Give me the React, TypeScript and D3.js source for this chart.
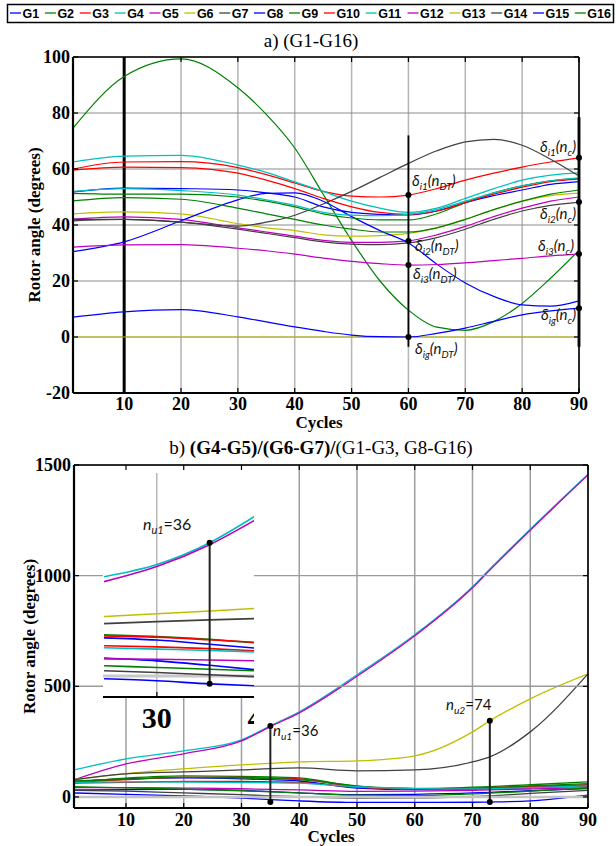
import React from "react";
import * as d3 from "d3";

// ---------- data ----------
const NAMES = ["G1","G2","G3","G4","G5","G6","G7","G8","G9","G10","G11","G12","G13","G14","G15","G16"];
const COLORS = ["#0000ff","#008000","#ff0000","#00bfbf","#bf00bf","#bfbf00","#404040","#0000ff","#008000","#ff0000","#00bfbf","#bf00bf","#bfbf00","#404040","#0000ff","#008000"];

// panel a: cycles
const X_A = [1,10,20,30,35,40,45,50,55,60,65,70,75,80,85,90];
const aG1 = [51.8,53.2,53,52.5,51.5,50,46.5,44.5,43.8,43.6,45,48,50.5,52.5,54.5,55.5];
const aG2 = [74.6,93,99.3,89,79.5,67.5,51,34.5,20,9.6,3.5,2.4,5.5,12,21,31];
const aG3 = [60,62.5,62.6,60.5,58,55,52,50.3,50,50.7,53,56,58.5,60.7,62.5,64];
const aG4 = [62.5,64.6,64.9,61.4,58.8,55.4,52,48.5,46,44.5,46,49.5,53,56,57.8,58.6];
const aG5 = [42.1,42.9,42,39,37.5,36,34.5,33.8,33.8,34.3,36.5,39.5,43,46,48.5,50];
const aG6 = [44,44.7,44,40.5,39,38,36.5,36,36.2,37,39,42,45.5,48.5,50.5,51.4];
const aG7 = [42,42,41,39.6,41,43.5,47.5,52,57,62,66.5,69.7,70.6,68.5,63.5,57.5];
const aG8 = [30.5,34,41.5,49,51.3,51.5,48.5,43,38,33.6,26,19.3,14.5,11.5,11,12.9];
const aG9 = [51.3,51,51,50,48.5,46.5,44,42.5,41.8,41.8,44,48,51.5,54,55.8,56.7];
const aG10 = [59.6,60.7,60.5,58.5,56,53,49.5,46.5,44.5,43.8,45,48,51,53.5,55.5,56.4];
const aG11 = [52,53,52.3,50.7,49,47,44.5,43.5,43.3,43.8,45.5,48.5,51.5,54,55.8,56.8];
const aG12 = [32.1,32.9,33,31.7,30.8,29.6,28.2,27,26.2,25.7,25.9,26.5,27.3,28.1,29,29.6];
const aG13 = [0,0,0,0,0,0,0,0,0,0,0,0,0,0,0,0];
const aG14 = [41.5,42,41,38.5,37,35.5,34,33.2,33,33.6,35.5,38.5,42,45,47,48.2];
const aG15 = [7.1,9,9.8,7.2,5.4,3.6,2,0.7,0.1,0,1.3,3.2,5.6,7.9,9.3,10.3];
const aG16 = [48.6,49.8,49.2,46,44,42,40,38.5,37.5,37.5,39,42,45.5,48.5,51,52.5];
const SERIES_A = [aG1,aG2,aG3,aG4,aG5,aG6,aG7,aG8,aG9,aG10,aG11,aG12,aG13,aG14,aG15,aG16];

const A_X_TICKS = [10,20,30,40,50,60,70,80,90];
const A_Y_TICKS = [-20,0,20,40,60,80,100];
const A_FAULT_X = 10;
const A_DT_X = 60;
const A_DT_SPAN = [-3.5, 72];
const A_NC_X = 90;
const A_NC_SPAN = [-3.5, 78.5];
const A_DT_SERIES = [2, 4, 11, 14]; // G3, G5, G12, G15
const A_NC_SERIES = [2, 13, 11, 14]; // G3, G14, G12, G15

// panel b: cycles
const X_B = [1,10,20,30,35,40,50,60,70,73,80,90];
const bG1 = [70,82,86,82,78,72,40,33,37,39,45,54];
const bG2 = [68,85,95,93,90,86,48,36,44,47,55,68];
const bG3 = [64,78,88,88,86,82,46,38,40,42,48,54];
const bG4 = [122,172,208,258,321,385,552,733,950,1030,1210,1458];
const bG5 = [77,149,195,253,318,380,545,728,945,1025,1205,1455];
const bG6 = [78,105,127,145,152,158,163,186,294,344,443,556];
const bG7 = [78,104,113,122,128,131,118,122,158,181,294,556];
const bG8 = [32,33,34,30,24,18,10,12,18,21,28,38];
const bG9 = [72,80,88,86,83,78,50,34,38,41,50,60];
const bG10 = [62,66,70,70,68,65,44,37,35,37,42,48];
const bG11 = [66,68,67,65,64,62,46,39,36,37,42,50];
const bG12 = [42,42,40,37,34,32,25,26,30,32,36,42];
const bG13 = [0,0,0,0,0,0,0,0,0,0,0,0];
const bG14 = [30,26,18,10,5,1,-5,-4,2,5,16,30];
const bG15 = [18,12,5,-5,-12,-18,-25,-25,-24,-23,-18,8];
const bG16 = [46,41,35,28,23,18,8,6,14,17,26,40];
const SERIES_B = [bG1,bG2,bG3,bG4,bG5,bG6,bG7,bG8,bG9,bG10,bG11,bG12,bG13,bG14,bG15,bG16];

const B_X_TICKS = [10,20,30,40,50,60,70,80,90];
const B_Y_TICKS = [0,500,1000,1500];
const B_MARK_X = [35, 73];
const B_MARK_SERIES = [3, 5]; // G4, G6
const B_MARK_BOTTOM = -23;
const B_MARK_LABELS = [["u1","=36"],["u2","=74"]];

// inset (magnified view of panel b)
const X_IN = [25,30,35,39.5];
const inG1 = [719,709,690,672];
const inG2 = [733,725,712,696];
const inG3 = [728,722,710,698];
const inG4 = [995,1050,1149,1275];
const inG5 = [973,1041,1140,1257];
const inG6 = [815,828,840,852];
const inG7 = [783,792,800,806];
const inG8 = [628,615,595,574];
const inG9 = [593,585,577,570];
const inG10 = [683,678,670,660];
const inG11 = [674,668,662,655];
const inG12 = [624,622,619,615];
const inG14 = [570,562,552,543];
const inG15 = [534,525,511,502];
const SERIES_IN: [number, number[]][] = [[0,inG1],[1,inG2],[2,inG3],[7,inG8],[8,inG9],[9,inG10],[10,inG11],[11,inG12],[13,inG14],[14,inG15],[5,inG6],[6,inG7],[3,inG4],[4,inG5]];
const IN_X_TICKS = [30, 40];
const IN_GRID_X = 30;
const IN_ZERO = 547;
const IN_MARK_X = 35;

// ---------- layout ----------
const W = 616, H = 846;
const xA = d3.scaleLinear().domain([1, 90]).range([73, 579]);
const yA = d3.scaleLinear().domain([-20, 100]).range([393, 57]);
const xB = d3.scaleLinear().domain([1, 90]).range([74, 588]);
const yB = d3.scaleLinear().domain([-50, 1500]).range([808, 465]);
const xIn = d3.scaleLinear().domain([24.9, 39.2]).range([103, 254]);
const IN_BOX = { x0: 103, x1: 254, y0: 466, y1: 697 };

const SERIF = "'Liberation Serif', 'Times New Roman', serif";
const SANS = "'Liberation Sans', Arial, sans-serif";
const CAL = "Lato, 'Open Sans', sans-serif";

function pathOf(xs: number[], vs: number[], xs_: any, ys_: any) {
  const gen = d3.line<number>().x((_, i) => xs_(xs[i])).y((v) => ys_(v)).curve(d3.curveMonotoneX);
  return gen(vs) || "";
}

function valAt(xs: number[], vs: number[], x: number) {
  const i = xs.indexOf(x);
  return vs[i];
}

function Delta({ x, y, sub, arg, anchor }: any) {
  return (
    <text x={x} y={y} fontFamily={CAL} fontStyle="italic" fontSize={15} textAnchor={anchor} fill="#111">
      δ<tspan fontSize={10} dy={4}>{sub}</tspan>
      <tspan dy={-4}>(n</tspan>
      <tspan fontSize={10} dy={4}>{arg}</tspan>
      <tspan dy={-4}>)</tspan>
    </text>
  );
}

function NLabel({ x, y, sub, rest, size }: any) {
  return (
    <text x={x} y={y} fontFamily={CAL} fontSize={size} fill="#111">
      <tspan fontStyle="italic">n</tspan>
      <tspan fontStyle="italic" fontSize={size * 0.68} dy={4}>{sub}</tspan>
      <tspan dy={-4}>{rest}</tspan>
    </text>
  );
}

function Legend() {
  let cx = 10;
  const items = NAMES.map((n, i) => {
    const tw = 12.5 * (0.778 + 0.556 * (n.length - 1));
    const x = cx;
    cx += 11 + 2 + tw + 5.2;
    return (
      <g key={n}>
        <line x1={x} x2={x + 11} y1={13} y2={13} stroke={COLORS[i]} strokeWidth={1.3} />
        <text x={x + 12.5} y={18} fontFamily={SANS} fontWeight="bold" fontSize={12.5} fill="#000">{n}</text>
      </g>
    );
  });
  return (
    <g>
      <rect x={7.5} y={4.5} width={606} height={18} fill="white" stroke="#000" strokeWidth={1.5} />
      {items}
    </g>
  );
}

function Frame({ x0, x1, y0, y1, xt, yt, xs, ys }: any) {
  return (
    <g>
      {xt.map((t: number) => (
        <g key={"xt" + t}>
          <line x1={xs(t)} x2={xs(t)} y1={y0} y2={y0 + 5} stroke="#000" strokeWidth={1.2} />
          <line x1={xs(t)} x2={xs(t)} y1={y1} y2={y1 - 5} stroke="#000" strokeWidth={1.2} />
        </g>
      ))}
      {yt.map((t: number) => (
        <g key={"yt" + t}>
          <line x1={x1} x2={x1 - 5} y1={ys(t)} y2={ys(t)} stroke="#000" strokeWidth={1.2} />
          <line x1={x0} x2={x0 + 5} y1={ys(t)} y2={ys(t)} stroke="#000" strokeWidth={1.2} />
        </g>
      ))}
      <line x1={x0} x2={x1} y1={y0} y2={y0} stroke="#000" strokeWidth={1.6} />
      <line x1={x1} x2={x1} y1={y0} y2={y1} stroke="#000" strokeWidth={1.6} />
      <line x1={x0} x2={x1} y1={y1} y2={y1} stroke="#000" strokeWidth={2.2} />
      <line x1={x0} x2={x0} y1={y0} y2={y1} stroke="#000" strokeWidth={2.2} />
    </g>
  );
}

function PanelA() {
  const [x0, x1] = xA.range();
  const [y1, y0] = yA.range();
  return (
    <g>
      <text x={311} y={47} textAnchor="middle" fontFamily={SERIF} fontSize={19}>a) (G1-G16)</text>
      {A_X_TICKS.map((t) => (
        <line key={"gx" + t} x1={xA(t)} x2={xA(t)} y1={y0} y2={y1} stroke="#b8b8b8" strokeWidth={1.6} />
      ))}
      {A_Y_TICKS.map((t) => (
        <line key={"gy" + t} x1={x0} x2={x1} y1={yA(t)} y2={yA(t)} stroke="#8c8c8c" strokeWidth={1.2} />
      ))}
      <line x1={xA(A_FAULT_X)} x2={xA(A_FAULT_X)} y1={y0} y2={y1} stroke="#000" strokeWidth={3} />
      {SERIES_A.map((s, i) => (
        <path key={i} d={pathOf(X_A, s, xA, yA)} fill="none" stroke={COLORS[i]} strokeWidth={1.2} />
      ))}
      <line x1={xA(A_DT_X)} x2={xA(A_DT_X)} y1={yA(A_DT_SPAN[0])} y2={yA(A_DT_SPAN[1])} stroke="#000" strokeWidth={1.8} />
      <line x1={xA(A_NC_X)} x2={xA(A_NC_X)} y1={yA(A_NC_SPAN[0])} y2={yA(A_NC_SPAN[1])} stroke="#222" strokeWidth={3} />
      {A_DT_SERIES.map((si) => (
        <circle key={"d" + si} cx={xA(A_DT_X)} cy={yA(valAt(X_A, SERIES_A[si], A_DT_X))} r={3} fill="#000" />
      ))}
      {A_NC_SERIES.map((si) => (
        <circle key={"n" + si} cx={xA(A_NC_X)} cy={yA(valAt(X_A, SERIES_A[si], A_NC_X))} r={3} fill="#000" />
      ))}
      <Delta x={412} y={186} sub="i1" arg="DT" anchor="start" />
      <Delta x={415} y={251} sub="i2" arg="DT" anchor="start" />
      <Delta x={413} y={279} sub="i3" arg="DT" anchor="start" />
      <Delta x={415} y={354} sub="ig" arg="DT" anchor="start" />
      <Delta x={576} y={152} sub="i1" arg="c" anchor="end" />
      <Delta x={576} y={219} sub="i2" arg="c" anchor="end" />
      <Delta x={574} y={251} sub="i3" arg="c" anchor="end" />
      <Delta x={576} y={320} sub="ig" arg="c" anchor="end" />
      <Frame x0={x0} x1={x1} y0={y0} y1={y1} xt={A_X_TICKS} yt={A_Y_TICKS} xs={xA} ys={yA} />
      {A_X_TICKS.map((t) => (
        <text key={"lx" + t} x={xA(t)} y={410} textAnchor="middle" fontFamily={SERIF} fontWeight="bold" fontSize={18}>{t}</text>
      ))}
      {A_Y_TICKS.map((t) => (
        <text key={"ly" + t} x={70} y={yA(t) + 6} textAnchor="end" fontFamily={SERIF} fontWeight="bold" fontSize={18}>{t}</text>
      ))}
      <text x={319} y={428} textAnchor="middle" fontFamily={SERIF} fontWeight="bold" fontSize={17}>Cycles</text>
      <text transform={`translate(40,${(y0 + y1) / 2}) rotate(-90)`} textAnchor="middle" fontFamily={SERIF} fontWeight="bold" fontSize={17}>Rotor angle (degrees)</text>
    </g>
  );
}

function PanelB() {
  const [x0, x1] = xB.range();
  const [y1, y0] = yB.range();
  return (
    <g>
      <defs>
        <clipPath id="inclip">
          <rect x={IN_BOX.x0} y={IN_BOX.y0} width={IN_BOX.x1 - IN_BOX.x0} height={IN_BOX.y1 - IN_BOX.y0} />
        </clipPath>
        <clipPath id="inlab">
          <rect x={IN_BOX.x0} y={IN_BOX.y1} width={IN_BOX.x1 - IN_BOX.x0} height={60} />
        </clipPath>
        <clipPath id="bclip">
          <rect x={x0} y={y0} width={x1 - x0} height={y1 - y0} />
        </clipPath>
      </defs>
      <text x={321} y={454} textAnchor="middle" fontFamily={SERIF} fontSize={19}>
        <tspan>b) </tspan>
        <tspan fontWeight="bold">(G4-G5)/(G6-G7)/</tspan>
        <tspan>(G1-G3, G8-G16)</tspan>
      </text>
      {B_X_TICKS.map((t) => (
        <line key={"gx" + t} x1={xB(t)} x2={xB(t)} y1={y0} y2={y1} stroke="#a0a0a0" strokeWidth={1.5} />
      ))}
      <g clipPath="url(#bclip)">
        {SERIES_B.map((s, i) => (
          <path key={i} d={pathOf(X_B, s, xB, yB)} fill="none" stroke={COLORS[i]} strokeWidth={1.3} />
        ))}
      </g>
      {B_Y_TICKS.map((t) => (
        <line key={"gy" + t} x1={x0} x2={x1} y1={yB(t)} y2={yB(t)} stroke={t === 0 ? "#c4c4c4" : "#9a9a9a"} strokeWidth={t === 0 ? 2.5 : 1.4} />
      ))}
      {B_MARK_X.map((mx, k) => {
        const top = valAt(X_B, SERIES_B[B_MARK_SERIES[k]], mx);
        return (
          <g key={"m" + k}>
            <line x1={xB(mx)} x2={xB(mx)} y1={yB(top)} y2={yB(B_MARK_BOTTOM)} stroke="#222" strokeWidth={2} />
            <circle cx={xB(mx)} cy={yB(top)} r={3} fill="#000" />
            <circle cx={xB(mx)} cy={yB(B_MARK_BOTTOM)} r={3} fill="#000" />
          </g>
        );
      })}
      <NLabel x={273} y={736} sub={B_MARK_LABELS[0][0]} rest={B_MARK_LABELS[0][1]} size={15} />
      <NLabel x={446} y={710} sub={B_MARK_LABELS[1][0]} rest={B_MARK_LABELS[1][1]} size={15} />

      {/* inset */}
      <rect x={IN_BOX.x0} y={IN_BOX.y0} width={IN_BOX.x1 - IN_BOX.x0} height={IN_BOX.y1 - IN_BOX.y0} fill="white" />
      <g clipPath="url(#inclip)">
        <line x1={xIn(IN_GRID_X)} x2={xIn(IN_GRID_X)} y1={473} y2={IN_BOX.y1} stroke="#777" strokeWidth={0.8} />
        <line x1={IN_BOX.x0} x2={IN_BOX.x1} y1={yB(IN_ZERO)} y2={yB(IN_ZERO)} stroke="#c8c8c8" strokeWidth={3} />
        {SERIES_IN.map(([gi, s]) => (
          <path key={"in" + gi} d={pathOf(X_IN, s, xIn, yB)} fill="none" stroke={COLORS[gi]} strokeWidth={1.6} />
        ))}
      </g>
      <line x1={xIn(IN_MARK_X)} x2={xIn(IN_MARK_X)} y1={yB(valAt(X_IN, inG4, IN_MARK_X))} y2={yB(valAt(X_IN, inG15, IN_MARK_X))} stroke="#222" strokeWidth={2} />
      <circle cx={xIn(IN_MARK_X)} cy={yB(valAt(X_IN, inG4, IN_MARK_X))} r={3} fill="#000" />
      <circle cx={xIn(IN_MARK_X)} cy={yB(valAt(X_IN, inG15, IN_MARK_X))} r={3} fill="#000" />
      <NLabel x={143} y={530} sub={B_MARK_LABELS[0][0]} rest={B_MARK_LABELS[0][1]} size={16} />
      <line x1={IN_BOX.x0} x2={IN_BOX.x1} y1={IN_BOX.y1} y2={IN_BOX.y1} stroke="#000" strokeWidth={2} />
      <line x1={xIn(IN_GRID_X)} x2={xIn(IN_GRID_X)} y1={IN_BOX.y1} y2={IN_BOX.y1 - 5} stroke="#000" strokeWidth={1.2} />
      <g clipPath="url(#inlab)">
        {IN_X_TICKS.map((t) => (
          <text key={"it" + t} x={xIn(t)} y={728} textAnchor="middle" fontFamily={SERIF} fontWeight="bold" fontSize={30}>{t}</text>
        ))}
      </g>

      <Frame x0={x0} x1={x1} y0={y0} y1={y1} xt={B_X_TICKS} yt={B_Y_TICKS} xs={xB} ys={yB} />
      {B_X_TICKS.map((t) => (
        <text key={"lx" + t} x={xB(t)} y={826} textAnchor="middle" fontFamily={SERIF} fontWeight="bold" fontSize={18}>{t}</text>
      ))}
      {B_Y_TICKS.map((t) => (
        <text key={"ly" + t} x={71} y={yB(t) + 6} textAnchor="end" fontFamily={SERIF} fontWeight="bold" fontSize={18}>{t}</text>
      ))}
      <text x={331} y={842} textAnchor="middle" fontFamily={SERIF} fontWeight="bold" fontSize={17}>Cycles</text>
      <text transform={`translate(35,${(y0 + y1) / 2}) rotate(-90)`} textAnchor="middle" fontFamily={SERIF} fontWeight="bold" fontSize={17}>Rotor angle (degrees)</text>
    </g>
  );
}

export default function App() {
  return (
    <svg width={W} height={H} viewBox={`0 0 ${W} ${H}`} style={{ position: "absolute", left: 0, top: 0, background: "white" }}>
      <rect x={0} y={0} width={W} height={H} fill="white" />
      <Legend />
      <PanelA />
      <PanelB />
    </svg>
  );
}
